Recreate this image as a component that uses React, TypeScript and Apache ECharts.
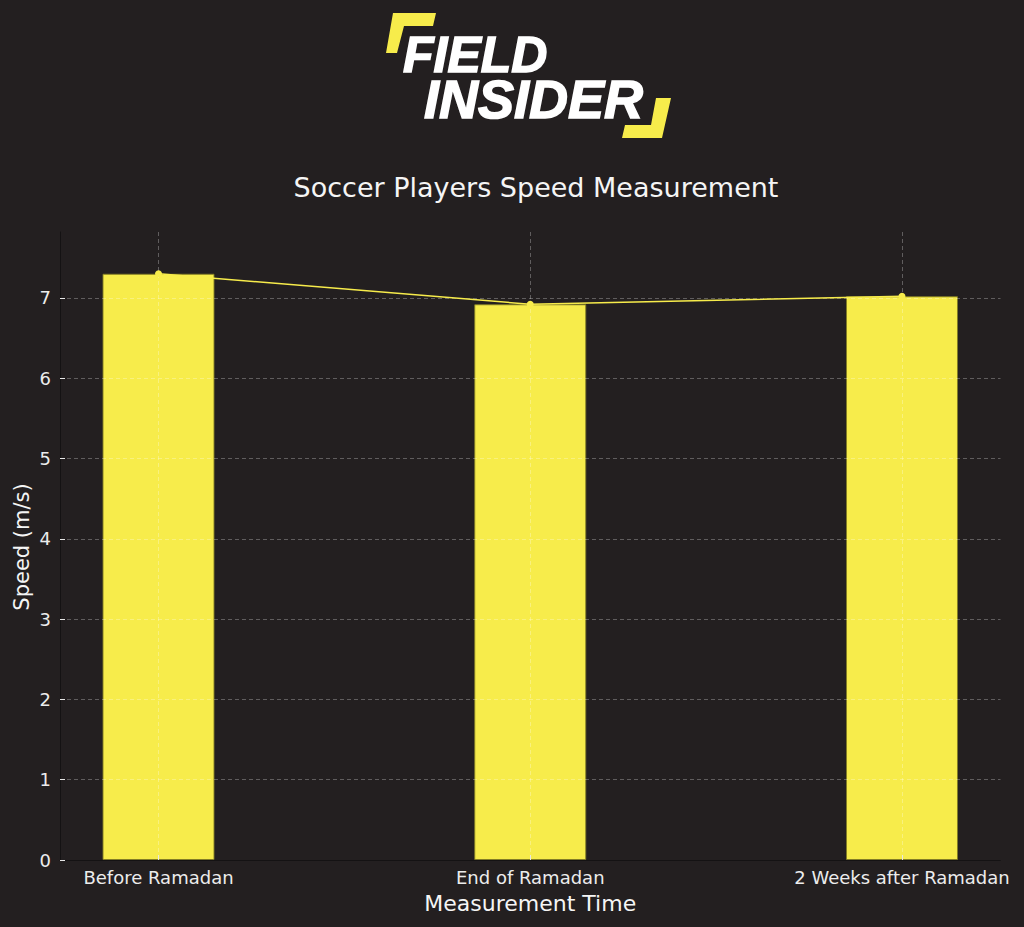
import React from 'react';
import * as echarts from 'echarts';

const categories = ['Before Ramadan', 'End of Ramadan', '2 Weeks after Ramadan'];
const categoryPositions = [0, 1, 2];
const speeds = [7.3, 6.92, 7.02];
const yTicks = [0, 1, 2, 3, 4, 5, 6, 7];

const BG = '#231f20';
const YELLOW = '#f7ec4b';
const TEXT = '#ececec';
const FONT = '"DejaVu Sans", Verdana, sans-serif';
const LOGO_FONT = '"Liberation Sans", Arial, sans-serif';

const buildLogo = (): any[] => [
  {
    type: 'polygon',
    shape: {
      points: [
        [393, 13],
        [436, 13],
        [433, 26],
        [404, 26],
        [397, 53],
        [386, 53],
      ],
    },
    style: { fill: YELLOW },
  },
  {
    type: 'polygon',
    shape: {
      points: [
        [656, 98],
        [671, 98],
        [662, 138],
        [622, 138],
        [625, 125],
        [651, 125],
      ],
    },
    style: { fill: YELLOW },
  },
  {
    type: 'text',
    x: 403,
    y: 33,
    style: {
      text: '{f|FIELD}\n{i|INSIDER}',
      fill: '#ffffff',
      stroke: '#ffffff',
      lineWidth: 1.5,
      align: 'left',
      verticalAlign: 'top',
      rich: {
        f: {
          fontFamily: LOGO_FONT,
          fontStyle: 'italic',
          fontWeight: 'bold',
          fontSize: 50,
          lineHeight: 44,
          fill: '#ffffff',
        },
        i: {
          fontFamily: LOGO_FONT,
          fontStyle: 'italic',
          fontWeight: 'bold',
          fontSize: 54,
          lineHeight: 43,
          padding: [0, 0, 0, 21],
          fill: '#ffffff',
        },
      },
    },
  },
];

const buildOption = (): echarts.EChartsOption => {
  const gridLine = {
    show: true,
    lineStyle: { color: 'rgba(255,255,255,0.28)', type: [4, 3] as any, width: 1 },
  };

  return {
    animation: false,
    backgroundColor: BG,
    textStyle: { fontFamily: FONT },
    title: {
      text: 'Soccer Players Speed Measurement',
      left: 531,
      textAlign: 'center',
      top: 169,
      textStyle: { color: '#f5f5f5', fontSize: 27, fontWeight: 'normal', fontFamily: FONT },
    } as any,
    grid: { left: 60, right: 23.5, top: 232, bottom: 67 },
    xAxis: {
      type: 'value',
      min: -0.265,
      max: 2.265,
      z: 5,
      name: 'Measurement Time',
      nameLocation: 'middle',
      nameGap: 32,
      nameTextStyle: { color: '#f5f5f5', fontSize: 22, fontFamily: FONT },
      axisLine: { show: true, onZero: false, lineStyle: { color: '#141213', width: 1 } },
      axisTick: {
        show: true,
        inside: true,
        length: 5,
        customValues: categoryPositions,
        lineStyle: { color: '#e6e6e6' },
      },
      axisLabel: {
        customValues: categoryPositions,
        formatter: (v: number) => categories[Math.round(v)] ?? '',
        color: TEXT,
        fontSize: 18,
        margin: 8,
        fontFamily: FONT,
        hideOverlap: false,
      },
      splitLine: gridLine,
    } as any,
    yAxis: {
      type: 'value',
      min: 0,
      max: 7.82,
      z: 5,
      axisLine: { show: true, onZero: false, lineStyle: { color: '#141213', width: 1 } },
      axisTick: {
        show: true,
        inside: true,
        length: 5,
        customValues: yTicks,
        lineStyle: { color: '#e6e6e6' },
      },
      axisLabel: {
        customValues: yTicks,
        color: TEXT,
        fontSize: 18,
        margin: 9,
        fontFamily: FONT,
      },
      splitLine: gridLine,
    } as any,
    graphic: [
      ...buildLogo(),
      {
        type: 'text',
        x: 22,
        y: 547,
        rotation: Math.PI / 2,
        style: {
          text: 'Speed (m/s)',
          fill: '#f5f5f5',
          font: `21px ${FONT}`,
          align: 'center',
          verticalAlign: 'middle',
        },
      },
    ],
    series: [
      {
        type: 'bar',
        name: 'Speed',
        barWidth: 112,
        data: categoryPositions.map((x, i) => [x, speeds[i]]),
        itemStyle: { color: YELLOW, borderColor: 'rgba(130,124,35,0.9)', borderWidth: 1 },
        z: 2,
      },
      {
        type: 'line',
        name: 'Trend',
        data: categoryPositions.map((x, i) => [x, speeds[i]]),
        symbol: 'circle',
        symbolSize: 7,
        lineStyle: { color: YELLOW, width: 1.5 },
        itemStyle: { color: YELLOW },
        z: 6,
      },
    ],
  };
};

export default function App() {
  const chartRef = React.useRef<HTMLDivElement>(null);

  React.useEffect(() => {
    document.body.style.margin = '0';
    document.body.style.background = BG;
    if (!chartRef.current) return;
    const instance = echarts.init(chartRef.current, undefined, { renderer: 'svg' });
    instance.setOption(buildOption());
    return () => {
      instance.dispose();
    };
  }, []);

  return <div ref={chartRef} style={{ width: 1024, height: 927 }} />;
}
